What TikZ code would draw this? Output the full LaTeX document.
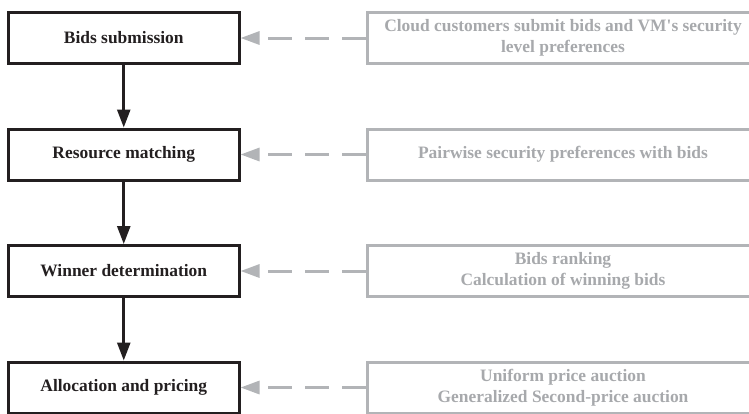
\documentclass[tikz,border=0pt]{standalone}
\usepackage{fontspec}
\setmainfont{Liberation Serif}
\usetikzlibrary{arrows.meta, positioning}
\definecolor{dblack}{RGB}{35,31,32}
\definecolor{tgray}{RGB}{167,169,172}
\definecolor{bgray}{RGB}{178,180,183}

\begin{document}
\begin{tikzpicture}[
  x=1bp, y=1bp,
  node distance=62.5bp,
  p/.style={rectangle, draw=dblack, line width=3bp, minimum width=230.5bp, minimum height=51bp, align=center, text=dblack},
  q/.style={rectangle, draw=bgray, line width=3bp, minimum width=392bp, minimum height=51bp, align=center, text=tgray},
  arr/.style={-{Triangle[length=18bp, width=13bp]}, line width=2.6bp, dblack},
  darr/.style={-{Triangle[length=19bp, width=13bp]}, line width=3bp, bgray, dash pattern=on 24bp off 13bp},
  font=\fontsize{17.5}{21}\selectfont\bfseries
]
\useasboundingbox (0,0) rectangle (749,-413);
\node[p] (bids) at (123.75,-38) {Bids submission};
\node[p, below=of bids] (match) {Resource matching};
\node[p, below=of match] (winner) {Winner determination};
\node[p, below=of winner] (alloc) {Allocation and pricing};
\node[q, right=125bp of bids] (bidsnote) {Cloud customers submit bids and VM{\textquotesingle}s security\\level preferences};
\node[q, right=125bp of match] (matchnote) {Pairwise security preferences with bids};
\node[q, right=125bp of winner] (winnernote) {Bids ranking\\Calculation of winning bids};
\node[q, right=125bp of alloc] (allocnote) {Uniform price auction\\Generalized Second-price auction};
\draw[arr] (bids) -- (match);
\draw[arr] (match) -- (winner);
\draw[arr] (winner) -- (alloc);
\draw[darr] (bidsnote) -- (bids);
\draw[darr] (matchnote) -- (match);
\draw[darr] (winnernote) -- (winner);
\draw[darr] (allocnote) -- (alloc);
\end{tikzpicture}
\end{document}
